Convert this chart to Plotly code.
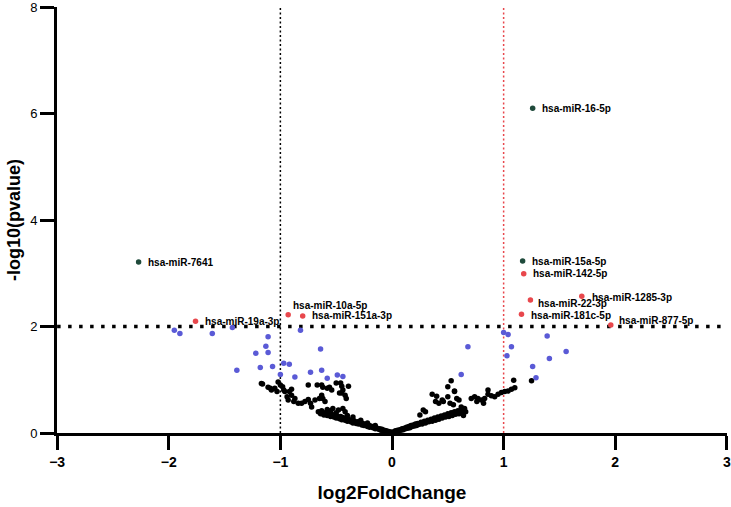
import plotly.graph_objects as go

# not-significant miRNAs (black)
black_x = [
    -1.16, -1.11, -1.08, -1.05, -1.03, -1.02, -1.00, -0.98, -0.97, -0.96,
    -0.94, -0.90, -0.90, -0.93, -0.88, -0.84, -0.81, -0.78, -0.75, -0.73,
    -0.72, -0.69, -0.65, -0.75, -0.67, -0.63, -0.62, -0.58, -0.56, -0.54,
    -0.50, -0.46, -0.45, -0.44, -0.39, -0.47, -0.45, -0.42, -0.41, -0.63,
    -0.62, -0.60, -0.53, -0.48, -0.44, -0.42, -1.17, -1.09, -0.92, -0.87,
    -0.66, -0.64, -0.63, -0.61, -0.60, -0.58, -0.57, -0.55, -0.54, -0.52,
    -0.51, -0.50, -0.49, -0.47, -0.46, -0.45, -0.44, -0.42, -0.41, -0.40,
    -0.39, -0.37, -0.36, -0.35, -0.34, -0.32, -0.31, -0.30, -0.29, -0.27,
    -0.26, -0.25, -0.24, -0.22, -0.21, -0.20, -0.19, -0.17, -0.16, -0.15,
    -0.14, -0.12, -0.11, -0.10, -0.09, -0.08, -0.07, -0.06, -0.05, -0.04,
    -0.03, -0.02, -0.01, -0.58, -0.55, -0.50, -0.40, -0.35, -0.28, -0.22,
    -0.15,
    0.01, 0.02, 0.03, 0.04, 0.05, 0.06, 0.07, 0.08, 0.09, 0.10,
    0.11, 0.12, 0.13, 0.14, 0.15, 0.16, 0.17, 0.18, 0.19, 0.20,
    0.21, 0.22, 0.23, 0.24, 0.26, 0.27, 0.29, 0.30, 0.32, 0.33,
    0.35, 0.36, 0.38, 0.39, 0.41, 0.42, 0.44, 0.45, 0.47, 0.48,
    0.50, 0.51, 0.53, 0.54, 0.56, 0.57, 0.59, 0.60, 0.62, 0.63,
    0.65, 0.66, 0.64,
    0.36, 0.40, 0.42, 0.46, 0.39, 0.45, 0.50, 0.53, 0.56, 0.58,
    0.52, 0.55, 0.60, 0.62, 0.64, 0.30, 0.25, 0.28, 0.50, 0.56,
    0.71, 0.74, 0.76, 0.77, 0.80, 0.82, 0.83, 0.86, 0.86, 0.89,
    0.92, 0.95, 0.98, 1.01, 1.04, 1.07, 1.10, 1.09, 1.25,
]
black_y = [
    0.92, 0.86, 0.81, 0.84, 0.78, 0.96, 0.90, 0.87, 0.81, 0.78,
    0.68, 0.82, 0.71, 0.62, 0.59, 0.56, 0.56, 0.59, 0.63, 0.56,
    0.49, 0.62, 0.65, 0.90, 0.90, 0.90, 0.86, 0.84, 0.86, 0.81,
    0.94, 0.94, 0.88, 0.81, 0.88, 0.75, 0.75, 0.71, 0.65, 0.71,
    0.65, 0.59, 0.46, 0.43, 0.46, 0.40, 0.93, 0.84, 0.78, 0.65,
    0.40, 0.36, 0.42, 0.34, 0.38, 0.33, 0.37, 0.31, 0.35, 0.30,
    0.34, 0.28, 0.32, 0.27, 0.31, 0.25, 0.29, 0.24, 0.27, 0.22,
    0.26, 0.21, 0.24, 0.19, 0.23, 0.18, 0.21, 0.17, 0.20, 0.15,
    0.18, 0.14, 0.16, 0.12, 0.15, 0.11, 0.13, 0.10, 0.12, 0.08,
    0.10, 0.07, 0.08, 0.05, 0.07, 0.04, 0.05, 0.03, 0.04, 0.02,
    0.03, 0.01, 0.02, 0.44, 0.42, 0.38, 0.33, 0.30, 0.24, 0.19,
    0.14,
    0.02, 0.01, 0.04, 0.03, 0.05, 0.04, 0.06, 0.05, 0.08, 0.06,
    0.09, 0.08, 0.11, 0.09, 0.12, 0.10, 0.14, 0.12, 0.15, 0.13,
    0.17, 0.14, 0.18, 0.16, 0.20, 0.17, 0.22, 0.19, 0.24, 0.21,
    0.26, 0.22, 0.28, 0.24, 0.30, 0.26, 0.32, 0.28, 0.34, 0.30,
    0.36, 0.31, 0.38, 0.33, 0.40, 0.35, 0.42, 0.36, 0.44, 0.38,
    0.46, 0.40, 0.33,
    0.73, 0.69, 0.56, 0.59, 0.59, 0.62, 0.87, 0.98, 0.78, 0.65,
    0.56, 0.53, 0.62, 0.49, 0.43, 0.40, 0.34, 0.43, 0.68, 0.79,
    0.65, 0.68, 0.59, 0.65, 0.62, 0.56, 0.65, 0.73, 0.81, 0.70,
    0.68, 0.73, 0.76, 0.78, 0.79, 0.82, 0.85, 0.99, 0.98,
]

# near-threshold miRNAs (blue)
blue_x = [-1.95, -1.90, -1.61, -1.43, -1.11, -1.13, -1.11, -1.22, -0.82, -0.64,
          -1.39, -1.18, -1.07, -0.97, -0.92, -1.00, -0.87, -0.73, -0.63, -0.58,
          -0.49, -0.44,
          0.68, 0.62, 1.00, 1.04, 1.07, 1.03, 1.39, 1.56, 1.41, 1.26, 1.29]
blue_y = [1.93, 1.87, 1.87, 1.98, 1.81, 1.63, 1.51, 1.50, 1.93, 1.58,
          1.18, 1.23, 1.25, 1.31, 1.29, 1.10, 1.05, 1.14, 1.18, 1.03,
          1.09, 1.06,
          1.62, 1.10, 1.89, 1.85, 1.62, 1.45, 1.82, 1.53, 1.40, 1.25, 1.04]

# significant miRNAs (red)
red_x = [-1.76, -0.93, -0.80, 1.18, 1.70, 1.24, 1.16, 1.96]
red_y = [2.10, 2.22, 2.20, 2.99, 2.57, 2.50, 2.23, 2.03]
red_labels = ["hsa-miR-19a-3p", "hsa-miR-10a-5p", "hsa-miR-151a-3p", "hsa-miR-142-5p",
              "hsa-miR-1285-3p", "hsa-miR-22-3p", "hsa-miR-181c-5p", "hsa-miR-877-5p"]

# top hits (dark green)
green_x = [-2.27, 1.26, 1.17]
green_y = [3.21, 6.10, 3.23]
green_labels = ["hsa-miR-7641", "hsa-miR-16-5p", "hsa-miR-15a-5p"]

# label nudges in px (xshift, yshift)
nudge = {
    "hsa-miR-10a-5p": (3, 9),
    "hsa-miR-22-3p": (6, -4),
    "hsa-miR-877-5p": (6, 4),
    "hsa-miR-1285-3p": (8, -1),
    "hsa-miR-181c-5p": (8, -1),
}

FONT = "Arial, Liberation Sans, sans-serif"

fig = go.Figure()

def dots(x, y, color):
    fig.add_trace(go.Scatter(x=x, y=y, mode="markers", cliponaxis=False,
                             marker=dict(color=color, size=5.5, line=dict(width=0))))

dots(black_x, black_y, "black")
dots(blue_x, blue_y, "#5a5ad6")
dots(red_x, red_y, "#e8474c")
dots(green_x, green_y, "#1f4a3b")

for xs, ys, labs in [(red_x, red_y, red_labels), (green_x, green_y, green_labels)]:
    for x, y, t in zip(xs, ys, labs):
        dx, dy = nudge.get(t, (7, 0))
        fig.add_annotation(x=x, y=y, text=t, showarrow=False, xanchor="left", yanchor="middle",
                           xshift=dx, yshift=dy,
                           font=dict(family=FONT, size=10, color="black", weight="bold"))

# thresholds
fig.add_shape(type="line", x0=-3, x1=3, y0=2, y1=2, layer="below",
              line=dict(color="black", width=3.5, dash="3.5px,7.5px"))
fig.add_shape(type="line", x0=-1, x1=-1, y0=0, y1=8, layer="below",
              line=dict(color="black", width=1.5, dash="2px,2.5px"))
fig.add_shape(type="line", x0=1, x1=1, y0=0, y1=8, layer="below",
              line=dict(color="#e8474c", width=1.5, dash="2px,2.5px"))

fig.update_xaxes(range=[-3.001, 3.001], tickvals=[-3, -2, -1, 0, 1, 2, 3],
                 showgrid=False, zeroline=False, showline=True, linecolor="black", linewidth=3,
                 ticks="outside", ticklen=14, tickwidth=3, tickcolor="black",
                 ticklabeloverflow="allow",
                 tickfont=dict(family=FONT, size=14, color="black", weight="bold"),
                 title=dict(text="log2FoldChange", standoff=17,
                            font=dict(family=FONT, size=19, color="black", weight="bold")))
fig.update_yaxes(range=[0, 8.002], tickvals=[0, 2, 4, 6, 8],
                 showgrid=False, zeroline=False, showline=True, linecolor="black", linewidth=3,
                 ticks="outside", ticklen=14, tickwidth=3, tickcolor="black",
                 ticklabeloverflow="allow",
                 tickfont=dict(family=FONT, size=13, color="black"),
                 title=dict(text="-log10(pvalue)", standoff=5,
                            font=dict(family=FONT, size=18, color="black", weight="bold")))

fig.update_layout(width=731, height=507, showlegend=False,
                  plot_bgcolor="white", paper_bgcolor="white",
                  margin=dict(l=57, r=4, t=7, b=74, autoexpand=False))

# drop the default 8px page margin so the figure fills the window
fig.write_html("out.html", config={"displayModeBar": False},
               post_script="document.body.style.margin='0';")
